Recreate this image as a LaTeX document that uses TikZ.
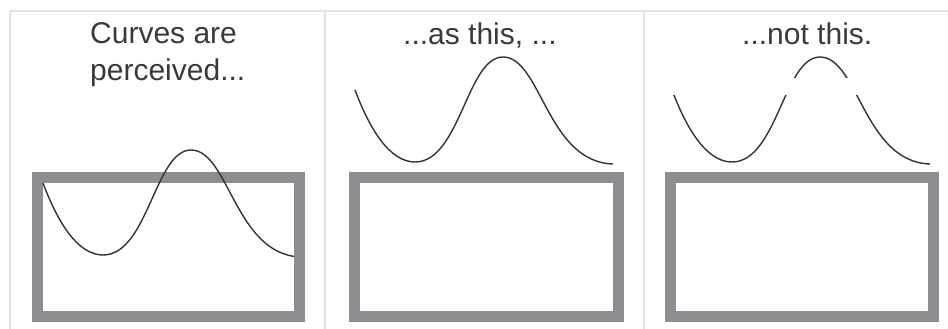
\documentclass[tikz,border=0pt]{standalone}
\usepackage{fontspec}
\setmainfont{Liberation Sans}
\definecolor{gridline}{HTML}{E2E2E2}
\definecolor{boxgray}{HTML}{8E8E92}
\definecolor{curvecol}{HTML}{333333}
\definecolor{txtcol}{HTML}{3A3A3A}
\newcommand\wavepath{(0,0) .. controls (15,40) and (35,72) .. (60,72) .. controls (105,72) and (112,-33) .. (148,-33) .. controls (186,-33) and (192,72) .. (258,74)}
\tikzset{
  gridrule/.style={draw=gridline, line width=1.5pt},
  framebox/.style={draw=boxgray, line width=11pt},
  wave/.style={draw=curvecol, line width=1.4pt},
  caption/.style={anchor=base west, inner sep=0pt, text=txtcol, font=\fontsize{30}{36}\selectfont}
}
\begin{document}
\begin{tikzpicture}[x=1pt, y=-1pt]
\useasboundingbox (0,0) rectangle (948,329);
% table rules
\draw[gridrule] (10,11) -- (948,11);
\draw[gridrule] (10,11) -- (10,329);
\draw[gridrule] (325,11) -- (325,329);
\draw[gridrule] (644,11) -- (644,329);
% captions
\node[caption] (t1a) at (90,44) {Curves are};
\node[caption] (t1b) at (90,81) {perceived...};
\node[caption] (t2) at (403,45) {...as this, ...};
\node[caption] (t3) at (742,45) {...not this.};
% boxes
\draw[framebox] (37.5,177.5) rectangle (299.5,316.5);
\draw[framebox] (354,177.5) rectangle (618,316.5);
\draw[framebox] (670.5,177.5) rectangle (933,316.5);
% curves
\begin{scope}
  \clip (30,100) rectangle (294,329);
  \begin{scope}[shift={(43,183)}]
    \draw[wave] \wavepath;
  \end{scope}
\end{scope}
\begin{scope}[shift={(355,90)}]
  \draw[wave] \wavepath;
\end{scope}
\begin{scope}
  \clip (650,0) rectangle (948,77.5);
  \begin{scope}[shift={(672,90)}]
    \draw[wave] \wavepath;
  \end{scope}
\end{scope}
\begin{scope}
  \clip (650,95.5) rectangle (948,329);
  \begin{scope}[shift={(672,90)}]
    \draw[wave] \wavepath;
  \end{scope}
\end{scope}
\end{tikzpicture}
\end{document}
